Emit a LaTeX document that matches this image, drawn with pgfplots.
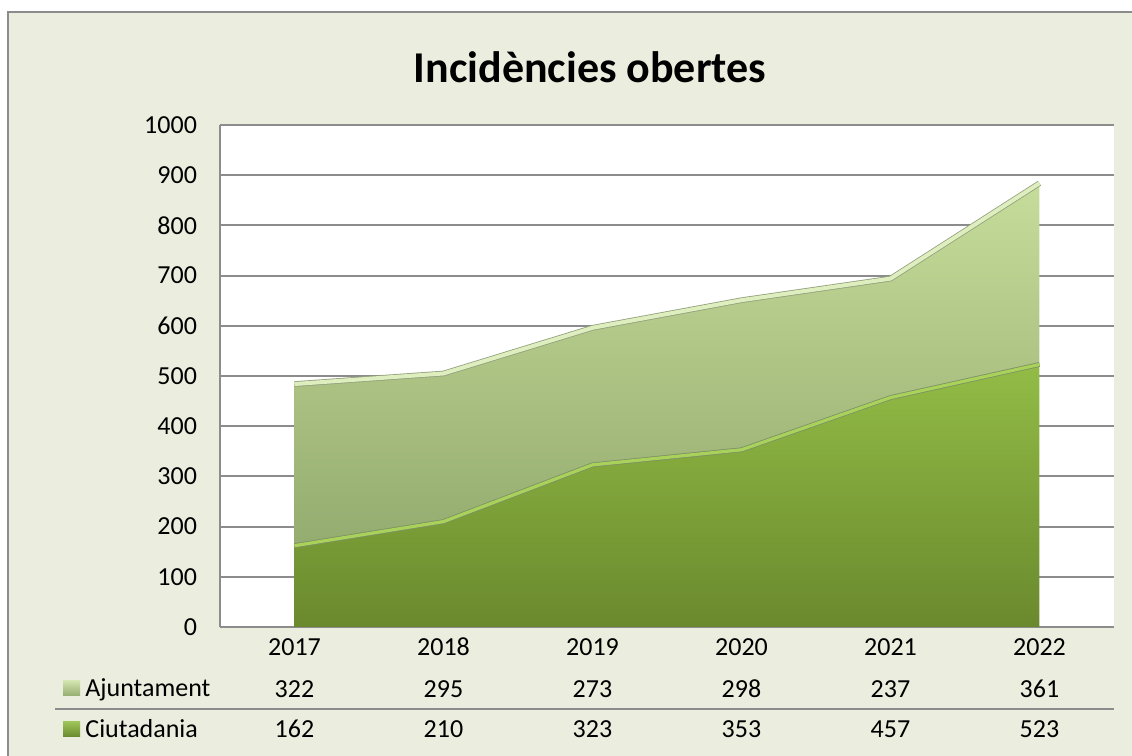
\documentclass[border=0pt]{standalone}
\usepackage{pgfplots}
\pgfplotsset{compat=1.18}
\usepackage{pgfplotstable}
\usepackage{fontspec}
\setmainfont{Carlito}
\definecolor{bgc}{HTML}{EBEEDE}
\definecolor{gridc}{HTML}{8C8C8C}
\definecolor{ajTop}{HTML}{C5DC9A}
\definecolor{ajBot}{HTML}{95AC70}
\definecolor{ciTop}{HTML}{92BC46}
\definecolor{ciBot}{HTML}{6A892D}
\definecolor{hiCi}{HTML}{A8D25A}
\definecolor{hiAj}{HTML}{DFEEBF}
\definecolor{edge}{HTML}{7F8F66}

\pgfplotstableread{
x year aj ci
0 2017 322 162
1 2018 295 210
2 2019 273 323
3 2020 298 353
4 2021 237 457
5 2022 361 523
}\datatable

\newcommand{\tabfont}{\fontsize{13}{15.6}\selectfont}

\begin{document}
\begin{tikzpicture}[x=0.5pt,y=0.5pt]
\useasboundingbox (0,0) rectangle (1132,756);
\fill[white] (0,0) rectangle (1132,756);
\fill[bgc] (8,0) rectangle (1132,744);
\draw[gridc, line width=1pt] (8,0) -- (8,744) -- (1132,744);

\pgfplotsset{common/.style={
  at={(110pt,64.5pt)}, anchor=south west, scale only axis, width=447pt, height=251pt,
  xmin=-0.5, xmax=5.5, ymin=0, ymax=1000}}

\begin{axis}[common,
  axis lines*=left,
  axis line style={gridc, line width=1pt},
  ymajorgrids, grid style={gridc, line width=1pt},
  ytick={0,100,...,1000},
  xtick={0,...,5}, xticklabels={2017,2018,2019,2020,2021,2022},
  major tick length=0pt,
  stack plots=y,
  clip=false,
  /pgf/number format/assume math mode=true,
  /pgf/number format/set thousands separator={},
  yticklabel style={xshift=-8pt},
  xticklabel style={anchor=base, yshift=-14.5pt},
  tick label style={font=\tabfont, text=black},
  axis background/.style={fill=white},
]
\addplot[draw=none, top color=ciTop, bottom color=ciBot] table[x=x,y=ci]{\datatable} \closedcycle;
\addplot[draw=none, top color=ajTop, bottom color=ajBot] table[x=x,y=aj]{\datatable} \closedcycle;

\node[anchor=base, yshift=-35pt, font=\tabfont] at (axis cs:0,0) {322};
\node[anchor=base, yshift=-35pt, font=\tabfont] at (axis cs:1,0) {295};
\node[anchor=base, yshift=-35pt, font=\tabfont] at (axis cs:2,0) {273};
\node[anchor=base, yshift=-35pt, font=\tabfont] at (axis cs:3,0) {298};
\node[anchor=base, yshift=-35pt, font=\tabfont] at (axis cs:4,0) {237};
\node[anchor=base, yshift=-35pt, font=\tabfont] at (axis cs:5,0) {361};
\node[anchor=base, yshift=-55.5pt, font=\tabfont] at (axis cs:0,0) {162};
\node[anchor=base, yshift=-55.5pt, font=\tabfont] at (axis cs:1,0) {210};
\node[anchor=base, yshift=-55.5pt, font=\tabfont] at (axis cs:2,0) {323};
\node[anchor=base, yshift=-55.5pt, font=\tabfont] at (axis cs:3,0) {353};
\node[anchor=base, yshift=-55.5pt, font=\tabfont] at (axis cs:4,0) {457};
\node[anchor=base, yshift=-55.5pt, font=\tabfont] at (axis cs:5,0) {523};
\end{axis}

\begin{axis}[common, hide axis, stack plots=y, clip=false]
\addplot[hiCi, line width=1.6pt, line join=round, preaction={draw=edge, line width=2.4pt}] table[x=x,y=ci]{\datatable};
\addplot[hiAj, line width=2pt, line join=round, preaction={draw=edge!85, line width=2.8pt}] table[x=x,y=aj]{\datatable};
\end{axis}

\node[anchor=base, font=\fontsize{22}{26.4}\selectfont\bfseries] at (590,673) {Incidències obertes};

\shade[top color=ajTop!80!white, bottom color=ajBot] (63,60) rectangle (80,75);
\shade[top color=ciTop!90!white, bottom color=ciBot] (63,19) rectangle (80,34);
\node[anchor=base west, inner sep=0, font=\tabfont] at (85,59) {Ajuntament};
\node[anchor=base west, inner sep=0, font=\tabfont] at (85,18) {Ciutadania};
\draw[gridc, line width=1pt] (55,47) -- (1114,47);
\end{tikzpicture}
\end{document}
